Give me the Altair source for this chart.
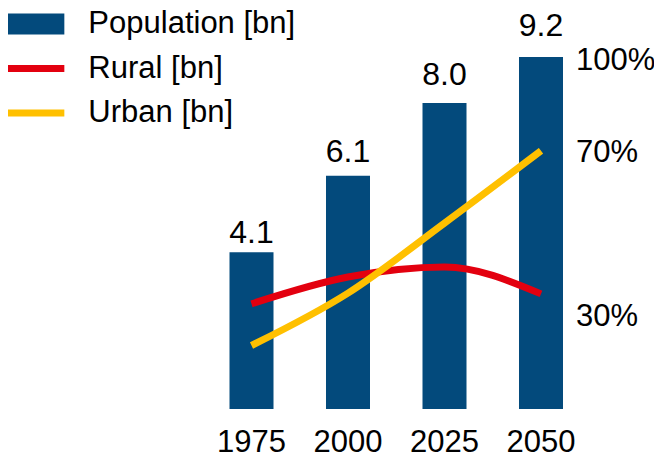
import altair as alt
import pandas as pd

# ---- data ----
years = ["1975", "2000", "2025", "2050"]
population = [4.1, 6.1, 8.0, 9.2]
rural = [2.75, 3.45, 3.71, 3.01]
urban = [1.66, 3.03, 4.86, 6.75]
series_names = ["Population [bn]", "Rural [bn]", "Urban [bn]"]
series_colors = ["#034A7C", "#E3000F", "#FFC000"]
pct_labels = ["100%", "70%", "30%"]
pct_at = [9.10, 6.70, 2.41]

FONT = "Liberation Sans"

bars_df = pd.DataFrame({"year": years, "pop": population})
lines_df = pd.DataFrame({
    "year": years * 2,
    "value": rural + urban,
    "series": [series_names[1]] * len(years) + [series_names[2]] * len(years),
})
legend_df = pd.DataFrame({"series": series_names})
pct_df = pd.DataFrame({"year": [years[-1]] * len(pct_labels), "label": pct_labels, "at": pct_at})

# legend symbols: wide rectangle for the bars, thin strips for the lines
symbol_paths = [
    "M-1.386,-0.477H1.386V0.477H-1.386Z",
    "M-1.386,-0.16H1.386V0.16H-1.386Z",
    "M-1.386,-0.16H1.386V0.16H-1.386Z",
]

x_enc = alt.X(
    "year:N",
    sort=years,
    title=None,
    scale=alt.Scale(paddingInner=0.544, paddingOuter=0.272),
    axis=alt.Axis(domain=False, ticks=False, tickSize=0, grid=False, labelAngle=0,
                  labelFontSize=31, labelFont=FONT, labelColor="black", labelPadding=18.5),
)
y_scale = alt.Scale(domain=[0, 10], nice=False, zero=True)

bars = alt.Chart(bars_df).mark_bar(color=series_colors[0]).encode(
    x=x_enc,
    y=alt.Y("pop:Q", scale=y_scale, axis=None),
)

bar_labels = alt.Chart(bars_df).transform_calculate(
    label_y="datum.pop * 1.06"
).mark_text(fontSize=32, font=FONT, color="black", baseline="alphabetic").encode(
    x=x_enc,
    y=alt.Y("label_y:Q", scale=y_scale, axis=None),
    text=alt.Text("pop:Q", format=".1f"),
)

lines = alt.Chart(lines_df).mark_line(strokeWidth=7, interpolate="monotone").encode(
    x=x_enc,
    y=alt.Y("value:Q", scale=y_scale, axis=None),
    stroke=alt.Stroke("series:N", scale=alt.Scale(domain=series_names[1:], range=series_colors[1:]), legend=None),
    order=alt.Order("year:N"),
)

legend_kwargs = dict(
    title=None, orient="none", legendX=-191.4, legendY=-24.5,
    symbolSize=1936, symbolOpacity=1, symbolStrokeWidth=0,
    labelFontSize=31, labelFont=FONT, labelColor="black", labelOffset=32.5,
    labelLimit=500, rowPadding=7.5, padding=0, direction="vertical",
)

legend_layer = alt.Chart(legend_df).mark_point(filled=True, opacity=0).encode(
    color=alt.Color("series:N", scale=alt.Scale(domain=series_names, range=series_colors),
                    legend=alt.Legend(**legend_kwargs)),
    shape=alt.Shape("series:N", scale=alt.Scale(domain=series_names, range=symbol_paths),
                    legend=alt.Legend(**legend_kwargs)),
)

pct_text = alt.Chart(pct_df).mark_text(fontSize=31, font=FONT, color="black", align="left",
                                       baseline="middle", dx=35).encode(
    x=x_enc,
    y=alt.Y("at:Q", scale=y_scale, axis=None),
    text="label:N",
)

chart = alt.layer(bars, bar_labels, lines, pct_text, legend_layer).properties(
    width=386,
    height=382.5,
    autosize=alt.AutoSizeParams(type="none"),
    padding={"left": 195.25, "top": 18.5, "right": 64.75, "bottom": 50},
).configure(font=FONT).configure_view(strokeWidth=0, stroke="transparent")

chart.save("out.html", embed_options={"renderer": "svg", "actions": False})
